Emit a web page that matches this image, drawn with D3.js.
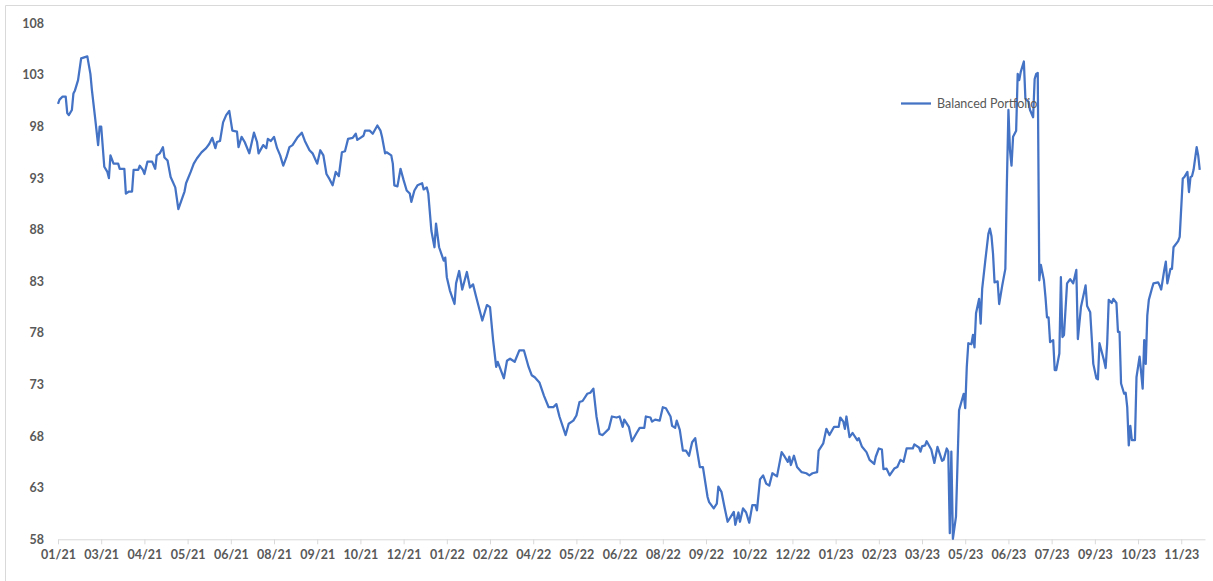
<!DOCTYPE html>
<html>
<head>
<meta charset="utf-8">
<script src="https://cdn.jsdelivr.net/npm/d3@7"></script>
<style>
  body { margin: 0; background: #fff; }
  svg { display: block; }
</style>
</head>
<body>
<div class="chart"></div>
<script>
// values, x = trading day index
var days = [0,1,3,5,6,7,9,10,11,13,15,19,21,22,24,26,27,28,30,32,33,34,36,39,40,43,44,46,48,49,52,53,55,56,58,61,63,64,66,68,69,71,73,76,78,80,82,83,86,88,90,93,96,98,100,102,103,105,107,109,111,113,116,117,119,121,124,127,129,130,133,135,136,138,140,142,144,146,148,150,152,155,158,160,163,165,168,170,172,174,176,178,180,182,
  184,186,188,191,193,194,196,198,199,202,204,207,209,210,212,213,216,217,218,220,222,224,226,228,229,231,233,236,237,239,240,242,244,245,247,250,251,252,254,257,258,260,262,265,267,269,271,275,278,280,282,284,285,289,291,293,296,299,302,305,307,309,312,315,318,321,323,325,329,331,334,336,338,340,343,345,347,349,351,353,357,359,362,
  364,366,367,370,372,375,377,380,381,384,385,387,390,392,394,397,398,400,401,403,405,407,409,411,413,414,416,418,421,422,425,427,428,430,432,434,438,439,441,442,444,446,448,450,452,453,455,457,459,461,463,466,469,471,473,474,475,477,479,482,485,487,489,492,493,496,498,500,503,506,507,509,510,511,513,515,518,519,521,524,526,529,530,532,534,535,537,539,542,544,546,548,550,554,555,558,559,560,562,563,566,568,570,573,574,576,577,578,579,580,582,
  584,587,588,589,590,592,593,594,595,597,598,599,601,603,604,605,606,607,609,610,612,614,615,616,617,618,619,621,622,623,624,626,627,629,630,632,633,634,635,636,637,639,640,641,642,643,645,646,647,649,650,651,652,654,656,658,660,661,663,666,667,669,671,673,674,675,678,679,680,681,683,684,686,687,688,689,691,692,693,694,695,696,698,699,701,702,703,704,705,706,707,709,710,713,714,715,717,718,719,721,722,723,726,727,729,730,732,733,734,735,736,738,739,740];
var values = [100.2,100.6,100.9,100.9,99.3,99.1,99.6,101.2,101.5,102.5,104.6,104.8,103.1,101.5,98.9,96.2,98.0,98.0,94.1,93.6,93.0,95.2,94.4,94.4,93.9,93.9,91.5,91.7,91.7,93.8,93.8,94.2,93.8,93.4,94.6,94.6,93.9,95.2,95.4,96.0,95.0,94.7,93.1,92.1,90.0,90.85,91.7,92.5,93.6,94.4,94.9,95.5,95.9,96.3,96.9,95.9,96.5,96.6,98.4,99.1,99.5,97.6,97.5,96.0,97.0,96.5,95.4,97.4,96.5,95.4,96.2,95.9,96.8,96.6,97.0,95.9,95.2,94.2,95.0,96.0,96.2,96.9,97.4,96.6,95.7,95.4,94.4,95.7,95.2,93.4,92.9,92.3,93.6,93.2,
  95.5,95.6,96.8,96.9,97.3,96.7,96.9,97.1,97.6,97.6,97.3,98.1,97.6,97.0,95.4,95.5,95.2,94.4,92.3,92.2,93.9,92.8,91.8,91.5,90.7,91.8,92.3,92.5,91.9,92.1,91.5,87.9,86.3,88.6,86.3,85.0,85.3,83.4,82.1,80.8,82.8,84.0,82.2,83.9,82.4,82.7,81.5,79.2,80.7,80.5,77.3,74.7,75.2,73.6,75.3,75.5,75.2,76.3,76.3,74.7,73.9,73.7,73.2,71.9,70.8,70.8,71.1,69.9,68.1,69.2,69.5,70.0,71.3,71.4,72.1,72.2,72.6,69.9,68.2,68.1,68.7,69.9,69.8,
  69.9,68.9,69.6,68.9,67.5,68.3,68.8,68.8,69.9,69.8,69.4,69.6,69.5,70.8,70.7,69.9,69.0,68.8,69.5,68.6,66.6,66.6,66.1,67.4,67.8,66.8,65.0,65.0,62.1,61.6,61.0,61.45,63.1,62.6,61.1,59.7,60.65,59.4,60.6,59.7,61.0,60.6,59.6,61.3,61.3,60.8,63.8,64.2,63.4,63.2,64.4,64.1,66.45,66.0,65.5,66.0,65.2,66.1,65.0,64.5,64.4,64.2,64.4,64.5,66.6,67.3,68.7,68.1,68.9,68.9,69.8,69.4,68.7,69.9,67.9,68.3,67.6,67.8,67.0,66.45,65.7,65.3,66.0,66.8,66.7,64.8,64.85,64.2,64.85,65.0,65.7,65.5,66.8,66.8,67.2,66.9,66.5,67.0,67.1,67.5,66.7,65.4,66.95,65.6,65.7,66.8,66.5,58.6,66.5,58.05,60.2,
  70.5,72.1,70.7,74.7,77.0,76.9,77.8,76.6,79.9,81.3,78.9,82.3,85.0,87.6,88.1,87.4,85.7,82.9,83.0,80.8,82.6,84.2,92.5,99.6,95.7,94.2,97.0,97.6,103.1,102.5,103.3,104.3,100.7,100.4,99.6,98.9,102.6,103.1,103.2,83.1,84.6,83.1,81.5,79.5,79.5,77.1,77.3,74.4,74.4,76.0,83.4,77.6,77.8,82.8,83.2,82.8,84.1,77.4,80.5,82.6,80.6,80.0,75.0,73.6,73.5,77.0,75.3,74.6,77.0,81.2,80.9,81.3,80.9,78.1,78.1,73.1,72.1,72.2,70.8,67.1,69.0,67.6,67.6,73.7,75.7,74.2,72.6,77.3,75.0,79.7,81.2,82.3,82.8,82.9,82.6,82.2,84.1,84.9,82.8,84.2,84.2,86.3,86.9,87.3,92.95,93.1,93.6,91.65,93.1,93.2,93.8,96.0,95.2,93.8];

var tickLabels = ["01/21","03/21","04/21","05/21","06/21","08/21","09/21","10/21","12/21","01/22","02/22","04/22","05/22","06/22","08/22","09/22","10/22","12/22","01/23","02/23","03/23","05/23","06/23","07/23","09/23","10/23","11/23"];
var tickStep = 28;
var yTicks = [58,63,68,73,78,83,88,93,98,103,108];
var seriesName = "Balanced Portfolio";

var width = 1213;
var height = 581;

var svg = d3.select(".chart").append("svg")
    .attr("width", width)
    .attr("height", height);

// chart border (only top and left show in the shot)
svg.append("path")
    .attr("d", "M5.5," + height + "V5.5H" + width)
    .attr("fill", "none")
    .attr("stroke", "#d9d9d9")
    .attr("stroke-width", 1);

var x = d3.scaleLinear().domain([0, 743.4]).range([58, 1205]);
var y = d3.scaleLinear().domain([58, 108]).range([539.3, 23.3]);

// y labels, no axis line
svg.append("g")
    .attr("transform", "translate(44,0)")
    .call(d3.axisLeft(y).tickValues(yTicks).tickSize(0).tickPadding(0))
    .call(function(g) { g.select(".domain").remove(); })
    .selectAll("text")
    .attr("fill", "#595959")
    .style("font", "bold 12.5px Lato");

// x axis
var xAxis = svg.append("g")
    .attr("transform", "translate(0," + y(58) + ")")
    .call(d3.axisBottom(x)
        .tickValues(tickLabels.map(function(d, i) { return i * tickStep; }))
        .tickFormat(function(d, i) { return tickLabels[i]; })
        .tickSizeInner(5)
        .tickSizeOuter(0)
        .tickPadding(6));
xAxis.select(".domain").attr("stroke", "#d9d9d9");
xAxis.selectAll(".tick line").attr("stroke", "#d9d9d9");
xAxis.selectAll("text")
    .attr("fill", "#595959")
    .style("font", "bold 12.5px Lato");

var line = d3.line()
    .x(function(d, i) { return x(days[i]); })
    .y(function(d) { return y(d); });

svg.append("path")
    .datum(values)
    .attr("fill", "none")
    .attr("stroke", "#4472c4")
    .attr("stroke-width", 2.25)
    .attr("stroke-linejoin", "round")
    .attr("d", line);

// legend
var legend = svg.append("g").attr("transform", "translate(901,103.5)");
legend.append("line")
    .attr("x1", 0).attr("x2", 30)
    .attr("stroke", "#4472c4")
    .attr("stroke-width", 2.25);
legend.append("text")
    .attr("x", 36)
    .attr("dy", "0.35em")
    .attr("fill", "#595959")
    .style("font", "12.5px Lato")
    .text(seriesName);
</script>
</body>
</html>
